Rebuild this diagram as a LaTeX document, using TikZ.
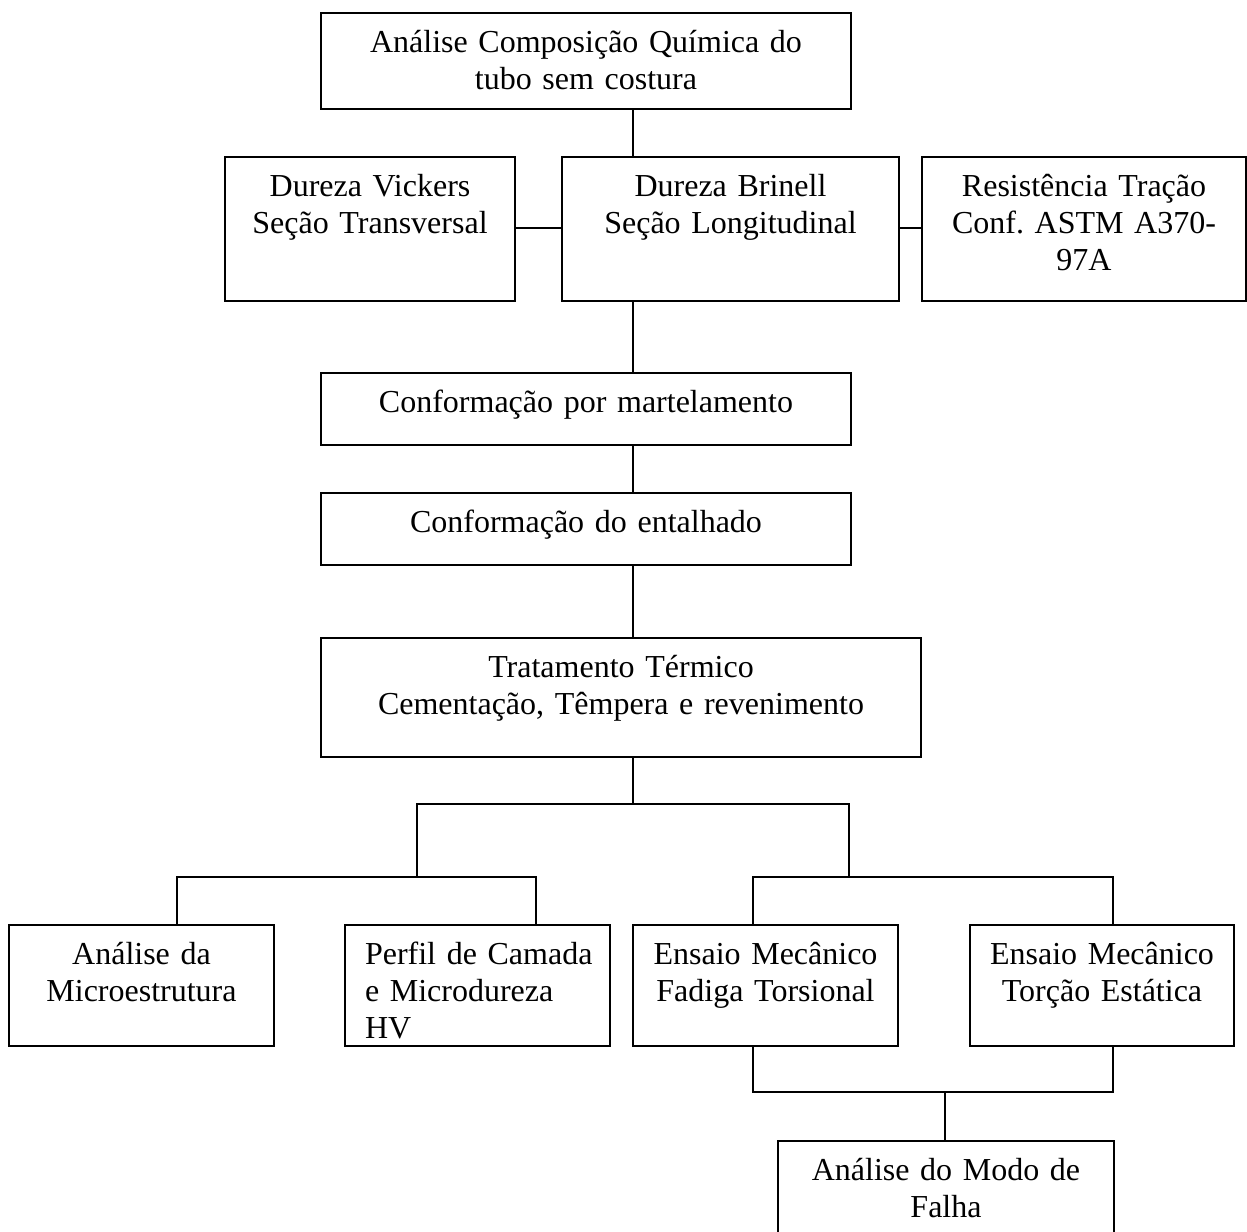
\documentclass[tikz,border=0pt]{standalone}
\usepackage{fontspec}
\setmainfont{Liberation Serif}

\newlength{\du}
\setlength{\du}{0.375pt}

\tikzset{
  caixa/.style={draw, line width=2\du, anchor=north west, inner xsep=0pt, inner ysep=0pt,
    align=center, font=\fontsize{12pt}{13.8pt}\selectfont\frenchspacing, text height=40\du},
  ligacao/.style={line width=2\du}
}

\begin{document}
\begin{tikzpicture}
\pgftransformxscale{1.000000}
\pgftransformyscale{-1.000000}
\useasboundingbox (0\du,0\du) rectangle (1247\du,1232\du);
% caixas
\node[caixa, text width=530\du, text depth=56\du] (quimica) at (320\du,12\du){Análise Composição Química do\\tubo sem costura};
\node[caixa, text width=290\du, text depth=104\du] (vickers) at (224\du,156\du){Dureza Vickers\\Seção Transversal};
\node[caixa, text width=337\du, text depth=104\du] (brinell) at (561\du,156\du){Dureza Brinell\\Seção Longitudinal};
\node[caixa, text width=324\du, text depth=104\du] (tracao) at (921\du,156\du){Resistência Tração\\Conf. ASTM A370-\\97A};
\node[caixa, text width=530\du, text depth=32\du] (martel) at (320\du,372\du){Conformação por martelamento};
\node[caixa, text width=530\du, text depth=32\du] (entalhe) at (320\du,492\du){Conformação do entalhado};
\node[caixa, text width=600\du, text depth=79\du] (termico) at (320\du,637\du){Tratamento Térmico\\Cementação, Têmpera e revenimento};
\node[caixa, text width=265\du, text depth=81\du] (micro) at (8\du,924\du){Análise da\\Microestrutura};
\node[caixa, inner xsep=20\du, text width=225\du, text depth=81\du, align=left] (perfil) at (344\du,924\du){\mbox{Perfil de Camada}\\\mbox{e Microdureza}\\HV};
\node[caixa, text width=265\du, text depth=81\du] (fadiga) at (632\du,924\du){Ensaio Mecânico\\Fadiga Torsional};
\node[caixa, text width=264\du, text depth=81\du] (torcao) at (969\du,924\du){Ensaio Mecânico\\Torção Estática};
\node[caixa, text width=336\du, text depth=81\du] (falha) at (777\du,1140\du){Análise do Modo de\\Falha};
% pontos de ligacao
\coordinate (eixo) at (633\du,0\du);
\coordinate (nivel) at (0\du,228\du);
\coordinate (div) at (633\du,804\du);
\coordinate (ramoE) at (417\du,877\du);
\coordinate (ramoD) at (849\du,877\du);
\coordinate (junta) at (945\du,1092\du);
% ligacoes
\draw[ligacao] (quimica.south -| eixo) -- (brinell.north -| eixo);
\draw[ligacao] (vickers.east |- nivel) -- (brinell.west |- nivel);
\draw[ligacao] (brinell.east |- nivel) -- (tracao.west |- nivel);
\draw[ligacao] (brinell.south -| eixo) -- (martel.north -| eixo);
\draw[ligacao] (martel.south -| eixo) -- (entalhe.north -| eixo);
\draw[ligacao] (entalhe.south -| eixo) -- (termico.north -| eixo);
\draw[ligacao] (termico.south -| eixo) -- (div);
\draw[ligacao] (ramoE) |- (div) -| (ramoD);
\draw[ligacao] (micro.north -| 177\du,0\du) |- (ramoE) -| (perfil.north -| 536\du,0\du);
\draw[ligacao] (fadiga.north -| 753\du,0\du) |- (ramoD) -| (torcao.north -| 1113\du,0\du);
\draw[ligacao] (fadiga.south -| 753\du,0\du) |- (junta) -| (torcao.south -| 1113\du,0\du);
\draw[ligacao] (junta) -- (falha.north -| junta);
\end{tikzpicture}
\end{document}
